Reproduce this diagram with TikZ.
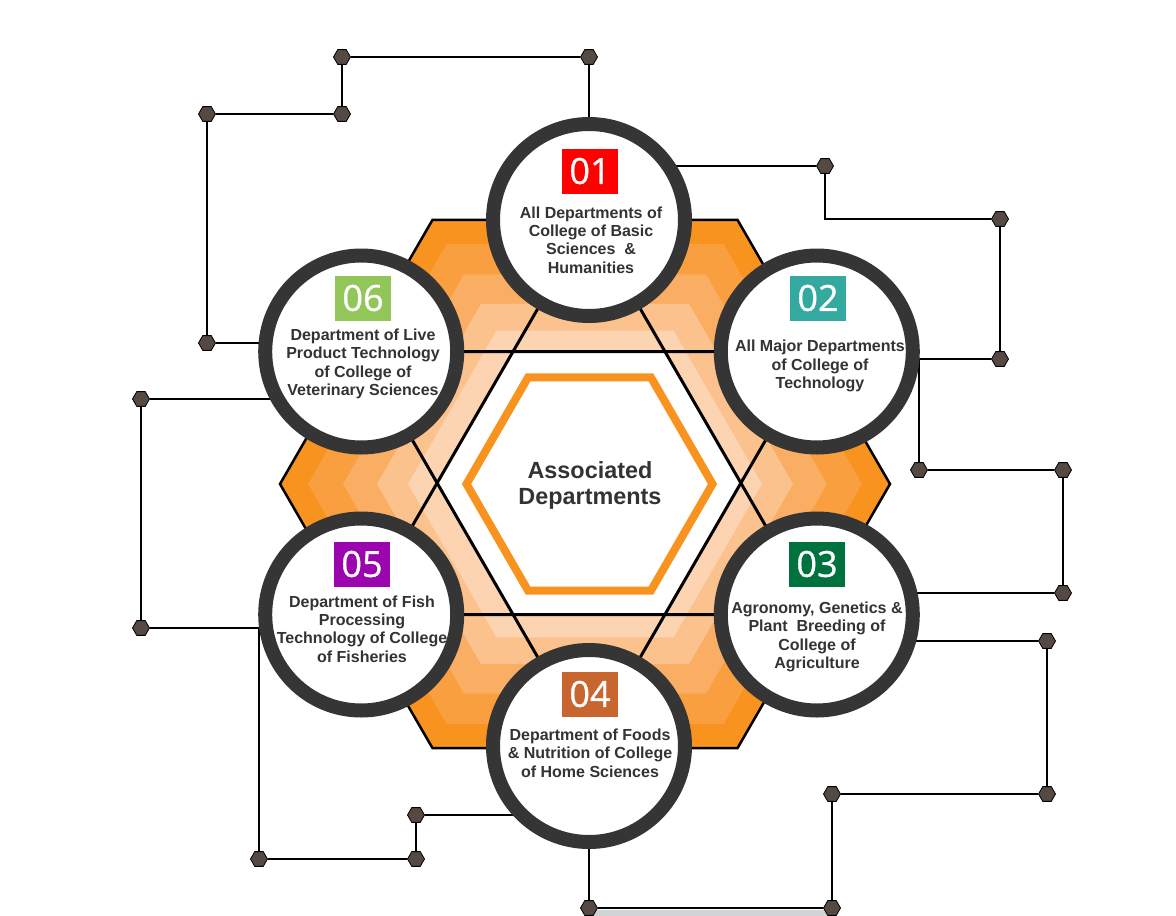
\documentclass[tikz,border=0pt]{standalone}
\usepackage{fontspec}
\setmainfont{Liberation Sans}
\newfontfamily\numfont[FakeBold=0.8]{Open Sans}
\usetikzlibrary{shapes.geometric,calc}
\pgfdeclarelayer{bg}
\pgfdeclarelayer{mid}
\pgfsetlayers{bg,mid,main}

\definecolor{ringc}{HTML}{353535}
\definecolor{txtc}{HTML}{333333}
\definecolor{dotc}{HTML}{554944}
\definecolor{barc}{HTML}{D0D3D4}
\definecolor{orng}{HTML}{F7931E}
\definecolor{layA}{HTML}{F7931E}
\definecolor{layB}{HTML}{F99F40}
\definecolor{layC}{HTML}{FAAE64}
\definecolor{layD}{HTML}{FCC28D}
\definecolor{layE}{HTML}{FDD4B2}
\definecolor{bOne}{HTML}{FF0000}
\definecolor{bTwo}{HTML}{33A99F}
\definecolor{bThree}{HTML}{00723D}
\definecolor{bFour}{HTML}{C9652F}
\definecolor{bFive}{HTML}{9A05AE}
\definecolor{bSix}{HTML}{93C658}

\begin{document}
\begin{tikzpicture}[x=1pt,y=-1pt,
  dept/.style={circle,draw=ringc,fill=white,line width=14pt,minimum size=192pt,inner sep=0pt},
  deptext/.style={align=center,text=txtc,font=\bfseries\fontsize{16}{18.4}\selectfont,inner sep=0pt},
  badge/.style={text=white,minimum width=56pt,minimum height=45pt,inner sep=0pt,font=\numfont\fontsize{36}{36}\selectfont},
  hexdot/.style={regular polygon,regular polygon sides=6,minimum size=17pt,inner sep=0pt,fill=dotc,draw=black,line width=0.8pt},
  hexlayer/.style={regular polygon,regular polygon sides=6,inner sep=0pt},
  conn/.style={draw=black,line width=2pt},
  starline/.style={draw=black,line width=3pt,line join=miter}]
\useasboundingbox (0,0) rectangle (1176,916);

% department circles on the points of the star
\node[dept] (c1) at (589,220) {};
\node[dept] (c2) at (816.8,351.5) {};
\node[dept] (c3) at (816.8,614.5) {};
\node[dept] (c4) at (589,746) {};
\node[dept] (c5) at (361.2,614.5) {};
\node[dept] (c6) at (361.2,351.5) {};

% number badges
\node[badge,fill=bOne]   (n1) at (590,171) {01};
\node[badge,fill=bTwo]   (n2) at (818,298) {02};
\node[badge,fill=bThree] (n3) at (817,564) {03};
\node[badge,fill=bFour]  (n4) at (590,694) {04};
\node[badge,fill=bFive]  (n5) at (362,564) {05};
\node[badge,fill=bSix]   (n6) at (363,298) {06};

% department names
\node[deptext] (t1) at (591,240) {All Departments of\\College of Basic\\Sciences\ \ \&\\Humanities};
\node[deptext] (t2) at (820,366) {All Major Departments\\of College of\\Technology};
\node[deptext] (t3) at (817,637) {Agronomy, Genetics \&\\Plant\ \ Breeding of\\College of\\Agriculture};
\node[deptext] (t4) at (590,753) {Department of Foods\\\& Nutrition of College\\of Home Sciences};
\node[deptext] (t5) at (362,629) {Department of Fish\\Processing\\Technology of College\\of Fisheries};
\node[deptext] (t6) at (363,364) {Department of Live\\Product Technology\\of College of\\Veterinary Sciences};

% hexagonal junction dots
\node[hexdot] (a1) at (589,57) {};
\node[hexdot] (a2) at (342,57) {};
\node[hexdot] (a3) at (342,114) {};
\node[hexdot] (a4) at (207,114) {};
\node[hexdot] (a5) at (207,343) {};
\node[hexdot] (b1) at (825,166) {};
\node[hexdot] (b2) at (1000,219) {};
\node[hexdot] (b3) at (1000,359) {};
\node[hexdot] (f1) at (919,470) {};
\node[hexdot] (f2) at (1063,470) {};
\node[hexdot] (f3) at (1063,593) {};
\node[hexdot] (d1) at (1047,641) {};
\node[hexdot] (d2) at (1047,794) {};
\node[hexdot] (d3) at (832,794) {};
\node[hexdot] (d4) at (832,908) {};
\node[hexdot] (d5) at (589,908) {};
\node[hexdot] (e1) at (141,399) {};
\node[hexdot] (e2) at (141,628) {};
\node[hexdot] (e3) at (259,859) {};
\node[hexdot] (e4) at (416,859) {};
\node[hexdot] (e5) at (416,815) {};
\coordinate (j2) at (919,359);
\coordinate (j5) at (259,628);

% circuit-style connectors
\begin{pgfonlayer}{mid}
  \fill[barc] (589,910) rectangle (832,916);
  \draw[conn] (c1) -- (a1) -- (a2) -- (a3) -- (a4) -- (a5) -- (a5 -| c6.center);
  \draw[conn] (b1 -| c1.center) -- (b1);
  \draw[conn] (b1) |- (b2);
  \draw[conn] (b2) -- (b3) -- (b3 -| c2.center);
  \draw[conn] (j2) -- (f1) -- (f2) -- (f3) -- (f3 -| c3.center);
  \draw[conn] (d1 -| c3.center) -- (d1) -- (d2) -- (d3) -- (d4) -- (d5) -- (c4);
  \draw[conn] (e1 -| c6.center) -- (e1) -- (e2) -- (e2 -| c5.center);
  \draw[conn] (j5) -- (e3) -- (e4) -- (e5) -- (e5 -| c4.center);
\end{pgfonlayer}

% central honeycomb
\begin{pgfonlayer}{bg}
  \fill[white] (0,0) rectangle (1176,916);
  \node[hexlayer,minimum size=610pt,fill=layA,draw=black,line width=2.5pt] (h1) at (585,484) {};
  \node[hexlayer,minimum size=554pt,fill=layB] (h2) at (585,484) {};
  \node[hexlayer,minimum size=484pt,fill=layC] (h3) at (585,484) {};
  \node[hexlayer,minimum size=416pt,fill=layD] (h4) at (585,484) {};
  \node[hexlayer,minimum size=354pt,fill=layE] (h5) at (585,484) {};
  \node[hexlayer,minimum size=303.6pt,fill=white] (h6) at (589,483) {};
  \draw[starline] (c1.center) -- (c3.center) -- (c5.center) -- cycle;
  \draw[starline] (c2.center) -- (c4.center) -- (c6.center) -- cycle;
  \node[hexlayer,minimum size=246pt,draw=orng,line width=8pt] (core) at (589.5,484) {};
  \node[align=center,text=txtc,font=\bfseries\fontsize{23.4}{26}\selectfont] (title) at (590,485) {Associated\\Departments};
\end{pgfonlayer}
\end{tikzpicture}
\end{document}
